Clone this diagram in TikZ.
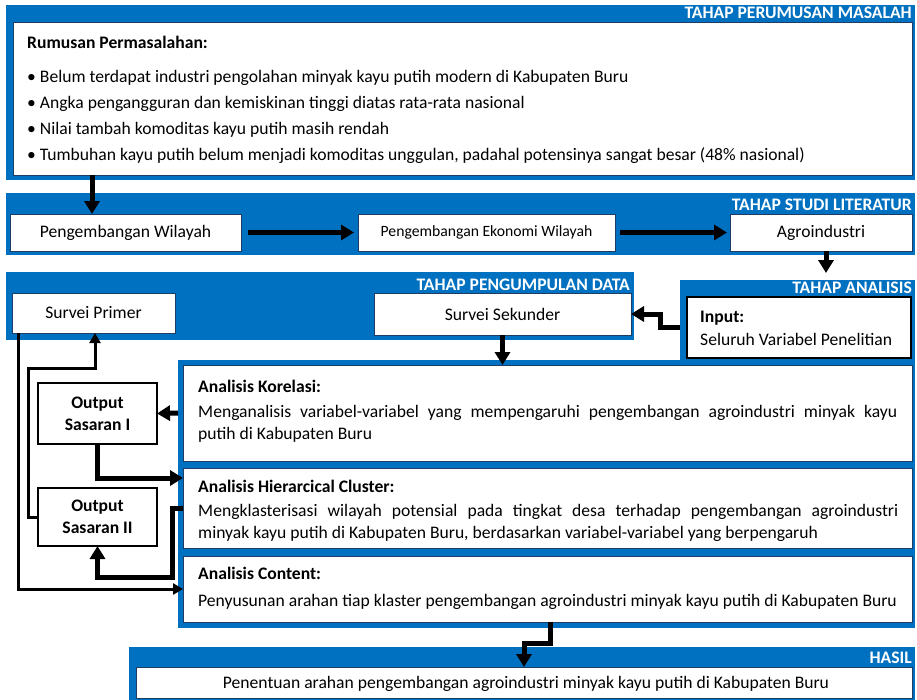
\documentclass[tikz,border=0pt]{standalone}
\usepackage{fontspec}
\setmainfont{Carlito}
\usetikzlibrary{arrows.meta}
\definecolor{panelblue}{RGB}{0,112,192}
\definecolor{boxedge}{RGB}{30,60,100}
\begin{document}
\fontsize{17.6}{21}\selectfont
\begin{tikzpicture}[x=1pt,y=-1pt,
  panel/.style={fill=panelblue, draw=none, inner sep=0, outer sep=0},
  wbox/.style={fill=white, draw=boxedge, line width=0.6pt, inner sep=0, outer sep=0},
  obox/.style={fill=white, draw=black, line width=1.3pt, inner sep=0, outer sep=0, font=\bfseries, align=center},
  hdr/.style={text=white, font=\bfseries, inner sep=0, anchor=base east},
  txt/.style={inner sep=0, anchor=base west},
  thk/.style={line width=5pt, -{Triangle[length=13pt,width=15pt]}},
  thn/.style={line width=3pt, -{Triangle[length=10pt,width=11pt]}},
]
\useasboundingbox (0,0) rectangle (917,699);
\fill[white] (0,0) rectangle (917,699);

% ---- Tahap perumusan masalah
\node[panel, minimum width=909pt, minimum height=175pt] (p1) at (460.5,92.5) {};
\node[wbox, minimum width=899pt, minimum height=153pt] (rm) at (462.5,98.5) {};
\node[hdr] (h1) at (912,18) {TAHAP PERUMUSAN MASALAH};
\node[txt, font=\bfseries] (rmt) at (27,48) {Rumusan Permasalahan:};
\node[txt] (b1) at (27,82) {• Belum terdapat industri pengolahan minyak kayu putih modern di Kabupaten Buru};
\node[txt] (b2) at (27,108) {• Angka pengangguran dan kemiskinan tinggi diatas rata-rata nasional};
\node[txt] (b3) at (27,134) {• Nilai tambah komoditas kayu putih masih rendah};
\node[txt] (b4) at (27,160) {• Tumbuhan kayu putih belum menjadi komoditas unggulan, padahal potensinya sangat besar (48\% nasional)};

% ---- Tahap studi literatur
\node[panel, minimum width=909pt, minimum height=62pt] (p2) at (460.5,224) {};
\node[hdr] (h2) at (912,210) {TAHAP STUDI LITERATUR};
\node[wbox, minimum width=231pt, minimum height=37pt] (pw) at (125.5,232.5) {Pengembangan Wilayah};
\node[wbox, minimum width=257pt, minimum height=37pt, font=\fontsize{15.7}{18}\selectfont] (pe) at (486.5,232.5) {Pengembangan Ekonomi Wilayah};
\node[wbox, minimum width=182pt, minimum height=37pt] (ag) at (821,232.5) {Agroindustri};

% ---- Tahap pengumpulan data
\node[panel, minimum width=628pt, minimum height=68pt] (p3) at (320,306) {};
\node[hdr] (h3) at (630,290) {TAHAP PENGUMPULAN DATA};
\node[wbox, minimum width=163pt, minimum height=40pt] (sp) at (93.5,313) {Survei Primer};
\node[wbox, minimum width=257pt, minimum height=42pt] (ss) at (502.5,314) {Survei Sekunder};

% ---- Tahap analisis
\node[panel, minimum width=235pt, minimum height=85pt] (anU) at (797.5,322.5) {};
\node[panel, minimum width=737pt, minimum height=268pt] (anL) at (546.5,494) {};
\node[hdr] (h4) at (912,293) {TAHAP ANALISIS};
\node[wbox, draw=black, line width=1.4pt, minimum width=224pt, minimum height=61pt] (inp) at (799,327.5) {};
\node[txt, font=\bfseries] (inpt) at (700,322) {Input:};
\node[txt] (inpv) at (700,345) {Seluruh Variabel Penelitian};

\node[wbox, minimum width=729pt, minimum height=96pt] (kor) at (547.5,413) {};
\node[wbox, minimum width=729pt, minimum height=80pt] (hc) at (547.5,508) {};
\node[wbox, minimum width=729pt, minimum height=66pt] (ac) at (547.5,589) {};

\node[txt, font=\bfseries] (kort) at (198,392) {Analisis Korelasi:};
\node[txt] (kor1) at (198,417) {\makebox[699pt][s]{Menganalisis variabel-variabel yang mempengaruhi pengembangan agroindustri minyak kayu}};
\node[txt] (kor2) at (198,439) {putih di Kabupaten Buru};
\node[txt, font=\bfseries] (hct) at (198,492) {Analisis Hierarcical Cluster:};
\node[txt] (hc1) at (198,516) {\makebox[700pt][s]{Mengklasterisasi wilayah potensial pada tingkat desa terhadap pengembangan agroindustri}};
\node[txt] (hc2) at (198,538) {minyak kayu putih di Kabupaten Buru, berdasarkan variabel-variabel yang berpengaruh};
\node[txt, font=\bfseries] (act) at (198,579) {Analisis Content:};
\node[txt] (ac1) at (198,606) {Penyusunan arahan tiap klaster pengembangan agroindustri minyak kayu putih di Kabupaten Buru};

% ---- Output boxes
\node[obox, minimum width=119pt, minimum height=61pt] (o1) at (97.5,413.5) {Output\\[1pt]Sasaran I};
\node[obox, minimum width=119pt, minimum height=58pt] (o2) at (97.5,517) {Output\\[1pt]Sasaran II};

% ---- Hasil
\node[panel, minimum width=786pt, minimum height=53pt] (p5) at (522,673.5) {};
\node[hdr] (h5) at (912,663) {HASIL};
\node[wbox, minimum width=776pt, minimum height=31pt] (hs) at (524,682.5) {};
\node[inner sep=0, anchor=base] (hst) at (526,688) {Penentuan arahan pengembangan agroindustri minyak kayu putih di Kabupaten Buru};

% ---- Connectors
\draw[thk] ([xshift=-33.5pt]pw.north |- rm.south) -- ([xshift=-33.5pt]pw.north);
\draw[thk, shorten <=7pt, shorten >=4pt] (pw) -- (pe);
\draw[thk, shorten <=5pt, shorten >=3pt] (pe) -- (ag);
\draw[thk, shorten >=7pt] ([xshift=5pt]ag.south) -- ([xshift=5pt]ag.south |- anU.north);
\draw[thk] (inp.west -| anU.west) -- ++(-20,0) |- (ss.east);
\draw[thk] (ss.south) -- (ss.south |- kor.north);
\draw[thk] (kor.west -| anL.west) -- (o1.east);
\draw[thk] (o1.south) |- ([yshift=30pt]hc.west);
\draw[thk] (hc.west) -- ++(-11,0) -- ++(0,69) -| (o2.south);
\draw[thn] ([xshift=-75.5pt]sp.south) |- (ac.west);
\draw[thn] (o2.west) -- ++(-10,0) -- ++(0,-149) -| ([xshift=1.5pt]sp.south);
\draw[thk] ([xshift=2.5pt]ac.south) -- ++(0,21) -| (hs.north);
\end{tikzpicture}
\end{document}
